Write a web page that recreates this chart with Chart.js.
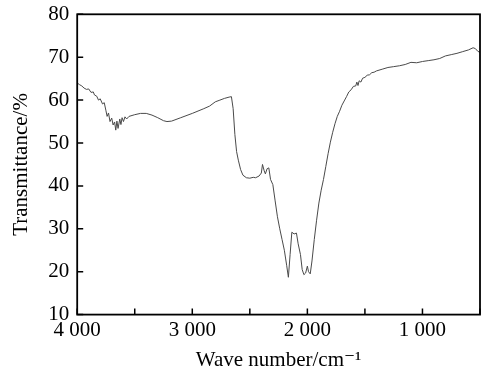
<!DOCTYPE html>
<html>
<head>
<meta charset="utf-8">
<script src="https://cdn.jsdelivr.net/npm/chart.js@4/dist/chart.umd.min.js"></script>
<style>
    html, body { margin: 0; padding: 0; background: #fff; }
    #wrap { width: 486px; height: 378px; }
</style>
</head>
<body>
<div id="wrap"><canvas id="chart"></canvas></div>
<script>
// IR spectrum
const waveNumbers = [
    4000, 3980, 3960, 3940, 3920, 3900, 3880, 3860, 3850, 3830, 3815, 3800, 3780, 3765, 3750, 3740,
    3728, 3715, 3700, 3688, 3675, 3665, 3655, 3645, 3630, 3620, 3610, 3598, 3585, 3570, 3550, 3500,
    3450, 3400, 3350, 3300, 3250, 3220, 3180, 3100, 3000, 2900, 2850, 2800, 2760, 2720, 2680, 2660,
    2645, 2630, 2615, 2600, 2580, 2560, 2530, 2500, 2470, 2450, 2420, 2400, 2390, 2375, 2365, 2350,
    2335, 2320, 2300, 2280, 2260, 2240, 2220, 2200, 2180, 2165, 2150, 2135, 2115, 2095, 2080, 2060,
    2045, 2030, 2015, 2000, 1990, 1975, 1960, 1940, 1920, 1900, 1880, 1860, 1840, 1820, 1800, 1780,
    1760, 1740, 1720, 1700, 1680, 1660, 1640, 1620, 1600, 1580, 1570, 1560, 1550, 1535, 1520, 1500,
    1480, 1460, 1440, 1420, 1400, 1350, 1300, 1250, 1200, 1150, 1100, 1050, 1000, 950, 900, 850,
    800, 750, 700, 650, 600, 560, 540, 520, 500
];
const transmittance = [
    64.0, 63.6, 63.3, 62.8, 62.5, 62.6, 61.8, 61.9, 61.2, 60.9, 60.0, 60.3, 59.1, 59.4, 57.5, 56.2,
    57.0, 55.0, 55.8, 54.2, 54.9, 53.0, 55.1, 53.4, 55.6, 54.3, 55.9, 55.0, 56.1, 55.6, 56.2, 56.6,
    56.9, 56.9, 56.5, 55.9, 55.2, 55.0, 55.1, 55.9, 56.9, 58.0, 58.6, 59.6, 60.0, 60.4, 60.7, 60.8,
    58.0, 52.0, 48.0, 46.0, 43.8, 42.5, 41.9, 41.8, 42.0, 41.9, 42.3, 43.0, 45.0, 43.5, 42.8, 44.0,
    44.2, 41.5, 40.3, 36.5, 32.8, 30.0, 27.5, 25.0, 21.5, 18.7, 24.0, 29.2, 28.8, 29.0, 26.5, 24.0,
    20.5, 19.3, 19.7, 21.3, 20.0, 19.5, 22.5, 27.5, 32.0, 36.0, 39.0, 41.5, 44.5, 47.5, 50.2, 52.5,
    54.5, 56.2, 57.4, 58.8, 59.8, 60.8, 61.9, 62.4, 63.2, 63.3, 64.2, 63.4, 64.5, 64.2, 65.1, 65.3,
    65.8, 65.9, 66.4, 66.5, 66.8, 67.2, 67.6, 67.8, 68.0, 68.3, 68.8, 68.7, 69.0, 69.2, 69.4, 69.7,
    70.3, 70.6, 70.9, 71.3, 71.7, 72.2, 72.0, 71.4, 71.1
];
const xMin = 500, xMax = 4000, xStep = 500;
const yMin = 10, yMax = 80, yStep = 10;

const serif = '"Liberation Serif", "DejaVu Serif", serif';

// frame plus ticks pointing into the plot
const framePlugin = {
    id: 'frame',
    afterDatasetsDraw(chart) {
        const { ctx, chartArea: a, scales } = chart;
        ctx.save();
        ctx.strokeStyle = '#000';
        ctx.lineWidth = 1.8;
        ctx.strokeRect(a.left, a.top, a.right - a.left, a.bottom - a.top);
        ctx.lineWidth = 1.5;
        ctx.beginPath();
        scales.x.ticks.forEach(t => {
            const px = scales.x.getPixelForValue(t.value);
            ctx.moveTo(px, a.bottom);
            ctx.lineTo(px, a.bottom - 6);
        });
        scales.y.ticks.forEach(t => {
            const py = scales.y.getPixelForValue(t.value);
            ctx.moveTo(a.left, py);
            ctx.lineTo(a.left + 6, py);
        });
        ctx.stroke();
        ctx.restore();
    }
};

new Chart(document.getElementById('chart'), {
    type: 'scatter',
    data: {
        datasets: [{
            data: waveNumbers.map((w, i) => ({ x: w, y: transmittance[i] })),
            showLine: true,
            borderColor: '#4a4a4a',
            borderWidth: 1,
            pointRadius: 0,
            tension: 0
        }]
    },
    options: {
        responsive: true,
        maintainAspectRatio: false,
        animation: false,
        layout: { padding: { left: 9, right: 6, top: 8, bottom: 5 } },
        plugins: {
            legend: { display: false },
            tooltip: { enabled: false }
        },
        scales: {
            x: {
                type: 'linear',
                reverse: true,
                min: xMin,
                max: xMax,
                grid: { display: false, drawTicks: false },
                border: { display: false },
                ticks: {
                    stepSize: xStep,
                    autoSkip: false,
                    maxRotation: 0,
                    padding: 3,
                    color: '#000',
                    font: { family: serif, size: 21 },
                    callback: v => (v % 1000 === 0 ? (v / 1000) + ' 000' : '')
                },
                title: {
                    display: true,
                    text: 'Wave number/cm⁻¹',
                    color: '#000',
                    font: { family: serif, size: 21 },
                    padding: { top: 2, bottom: 0 }
                }
            },
            y: {
                min: yMin,
                max: yMax,
                grid: { display: false, drawTicks: false },
                border: { display: false },
                ticks: {
                    stepSize: yStep,
                    padding: 8,
                    color: '#000',
                    font: { family: serif, size: 21, lineHeight: 0.6 }
                },
                title: {
                    display: true,
                    text: 'Transmittance/%',
                    color: '#000',
                    font: { family: serif, size: 21 },
                    padding: { top: 0, bottom: 6 }
                }
            }
        }
    },
    plugins: [framePlugin]
});
</script>
</body>
</html>
